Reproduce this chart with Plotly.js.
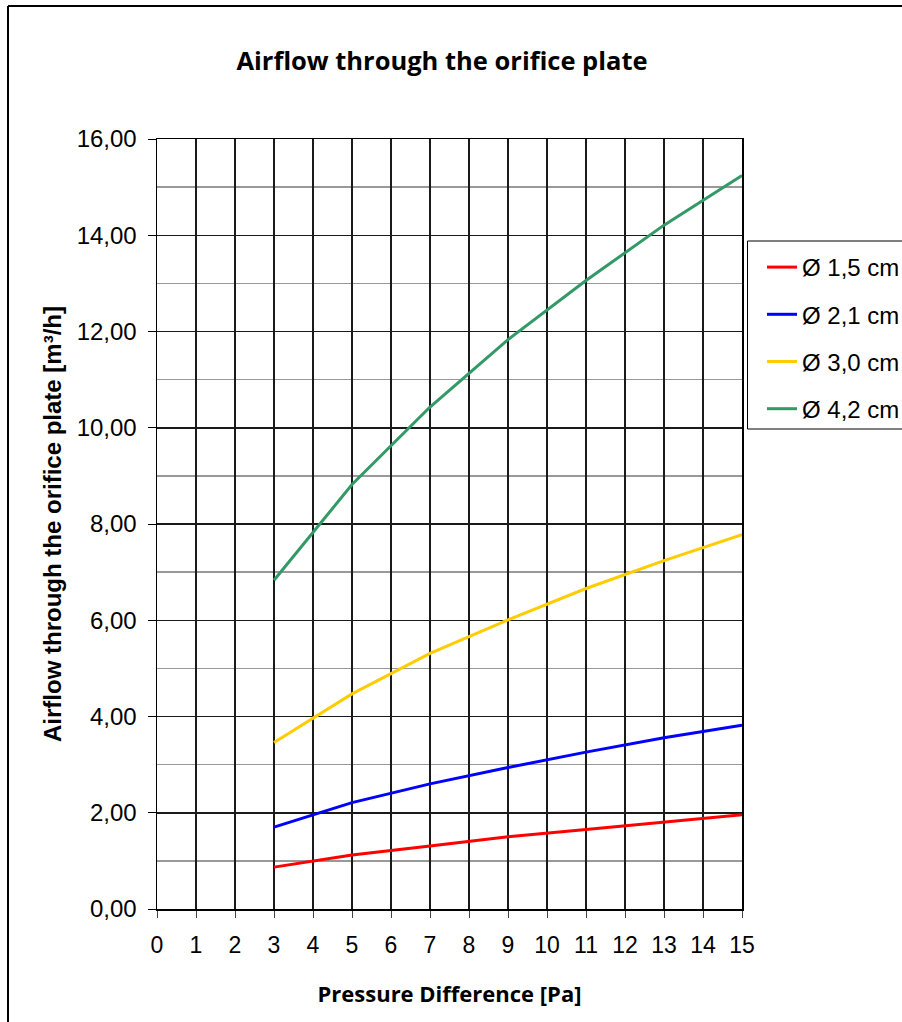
<!DOCTYPE html>
<html>
<head>
<meta charset="utf-8">
<script src="https://cdn.plot.ly/plotly-3.0.1.min.js"></script>
<style>html,body{margin:0;padding:0;background:#fff;}#chart{width:902px;height:1022px;}</style>
</head>
<body>
<div id="chart"></div>
<script>
const pressure = [3, 5, 7, 9, 11, 13, 15];
const seriesNames = ["Ø 1,5 cm", "Ø 2,1 cm", "Ø 3,0 cm", "Ø 4,2 cm"];
const flow15 = [0.87, 1.12, 1.31, 1.50, 1.65, 1.80, 1.96];
const flow21 = [1.70, 2.21, 2.60, 2.94, 3.26, 3.56, 3.82];
const flow30 = [3.46, 4.47, 5.31, 6.01, 6.66, 7.24, 7.78];
const flow42 = [6.83, 8.82, 10.43, 11.83, 13.06, 14.21, 15.24];
const seriesColors = ["#FF0000", "#0000FF", "#FFCC00", "#339966"];
const xTicks = [0,1,2,3,4,5,6,7,8,9,10,11,12,13,14,15];

const L = 157, R = 742, T = 139, B = 909;
const PW = R - L, PH = B - T;
const px = v => (v - L) / PW;
const py = v => (B - v) / PH;

const allFlows = [flow15, flow21, flow30, flow42];
const traces = allFlows.map((ys, i) => ({
  x: pressure, y: ys, type: 'scatter', mode: 'lines',
  name: seriesNames[i],
  legendgroup: 'g' + i,
  line: {color: seriesColors[i], width: 3}
}));

const layout = {
  width: 902, height: 1022,
  margin: {l: L, r: 902 - R, t: T, b: 1022 - B, autoexpand: false},
  paper_bgcolor: '#ffffff', plot_bgcolor: '#ffffff',
  separators: ',.',
  font: {family: 'Liberation Sans', size: 23, color: '#000'},
  title: {
    text: '<b>Airflow through the orifice plate</b>',
    font: {family: 'Open Sans', size: 25.5, color: '#000'},
    x: 442 / 902, xref: 'container', xanchor: 'center',
    y: 1 - 61 / 1022, yref: 'container', yanchor: 'middle'
  },
  xaxis: {
    range: [0, 15], tickvals: xTicks, ticktext: xTicks.map(String),
    showgrid: true, gridcolor: '#1a1a1a', gridwidth: 1.5,
    showline: true, linecolor: '#000', linewidth: 1.5, mirror: true,
    ticks: 'outside', ticklen: 7, tickcolor: '#444', tickwidth: 1,
    ticklabelstandoff: 8,
    zeroline: false,
    tickfont: {family: 'Liberation Sans', size: 23},
    title: {text: '<b>Pressure Difference [Pa]</b>\u2002\u2002', standoff: 29,
            font: {family: 'Open Sans', size: 22}}
  },
  yaxis: {
    range: [0, 16], dtick: 2, tick0: 0, tickformat: '.2f',
    showgrid: true, gridcolor: '#1a1a1a', gridwidth: 1.5,
    minor: {dtick: 1, showgrid: true, gridcolor: '#999999', gridwidth: 1.5, ticks: ''},
    showline: true, linecolor: '#000', linewidth: 1.5, mirror: true,
    ticks: 'outside', ticklen: 8, tickcolor: '#000', tickwidth: 1,
    ticklabelstandoff: 6,
    zeroline: false,
    tickfont: {family: 'Liberation Sans', size: 24},
    title: {text: '<b>Airflow through the orifice plate [m³/h]</b>', standoff: 8,
            font: {family: 'Liberation Sans', size: 24}}
  },
  showlegend: true,
  legend: {
    x: px(762), xanchor: 'left',
    y: py(245), yanchor: 'top',
    borderwidth: 0, bgcolor: 'rgba(255,255,255,0)',
    font: {family: 'Liberation Sans', size: 24},
    tracegroupgap: 13, traceorder: 'grouped'
  },
  shapes: [
    {type: 'line', xref: 'paper', yref: 'paper', x0: px(8), x1: px(8), y0: py(6), y1: py(1040),
     line: {color: '#000', width: 2}},
    {type: 'line', xref: 'paper', yref: 'paper', x0: px(8), x1: px(920), y0: py(6), y1: py(6),
     line: {color: '#000', width: 2}},
    {type: 'rect', xref: 'paper', yref: 'paper', x0: px(747.5), x1: px(940), y0: py(429), y1: py(241),
     line: {color: '#000', width: 1}, fillcolor: '#ffffff', layer: 'above'}
  ]
};

Plotly.newPlot('chart', traces, layout, {displayModeBar: false, staticPlot: true});
</script>
</body>
</html>
